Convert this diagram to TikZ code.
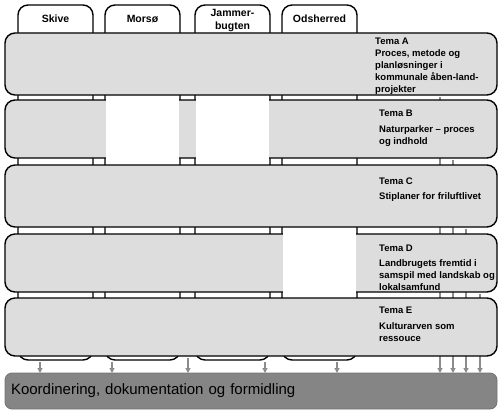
\documentclass[tikz,border=0pt]{standalone}
\usepackage{fontspec}
\setmainfont{Liberation Sans}
\usetikzlibrary{
  arrows.meta,
  backgrounds,
  calc,
  positioning,
}
\definecolor{temagraa}{RGB}{221, 221, 221}
\definecolor{koordgraa}{RGB}{133, 133, 133}
\definecolor{pilgraa}{RGB}{140, 140, 140}
\tikzstyle{kolonne} = [
  rectangle,
  draw,
  line width=1.4pt,
  fill=white,
  rounded corners=10pt,
  minimum width=75pt,
  minimum height=355pt,
  outer sep=0pt,
]
\tikzstyle{kolonnenavn} = [
  font=\fontsize{10.5}{13}\selectfont\bfseries,
  align=center,
  anchor=north,
  inner sep=0pt,
]
\tikzstyle{tema} = [
  rectangle,
  draw,
  line width=1.4pt,
  fill=temagraa,
  rounded corners=10pt,
  minimum width=492pt,
  outer sep=0pt,
]
\tikzstyle{tematekst} = [
  font=\fontsize{9.5}{12}\selectfont\bfseries,
  align=left,
  anchor=north west,
  inner sep=0pt,
]
\tikzstyle{koord} = [
  rectangle,
  draw=black!55,
  line width=0.8pt,
  fill=koordgraa,
  rounded corners=7pt,
  minimum height=36pt,
  text width=480pt,
  inner xsep=6pt,
  align=left,
  outer sep=0pt,
  font=\fontsize{15}{18}\selectfont,
]
\tikzstyle{pil} = [
  -{Triangle[width=5pt,length=5pt]},
  line width=1.1pt,
  pilgraa,
  shorten <=2pt,
]

\begin{document}
\begin{tikzpicture}[x=1pt,y=1pt]
			\useasboundingbox (0,0) rectangle (500,416);

			\node[kolonne] (skive) at (55.5,233.5) {};
			\node[kolonne] (morsoe) [right=12pt of skive] {};
			\node[kolonne] (jammerbugt) [right=15pt of morsoe] {};
			\node[kolonne] (odsherred) [right=12pt of jammerbugt] {};

			\node[kolonnenavn] (navnskive) at ([yshift=-10pt]skive.north) {Skive};
			\node[kolonnenavn] (navnmorsoe) at ([yshift=-10pt]morsoe.north) {Morsø};
			\node[kolonnenavn] (navnjammerbugt) at ([yshift=-4pt]jammerbugt.north) {Jammer-\\bugten};
			\node[kolonnenavn] (navnodsherred) at ([yshift=-10pt]odsherred.north) {Odsherred};

			\node[tema,minimum height=62pt] (temaA) at (251,352) {};
			\node[tema,minimum height=58pt] (temaB) [below=5pt of temaA] {};
			\node[tema,minimum height=62pt] (temaC) [below=7pt of temaB] {};
			\node[tema,minimum height=58pt] (temaD) [below=7pt of temaC] {};
			\node[tema,minimum height=58pt] (temaE) [below=6pt of temaD] {};

			\fill[white] ($(morsoe.west |- temaA.south)+(1pt,-1pt)$) rectangle ($(morsoe.east |- temaC.north)+(-1pt,1pt)$);
			\fill[white] ($(jammerbugt.west |- temaA.south)+(1pt,-1pt)$) rectangle ($(jammerbugt.east |- temaC.north)+(-1pt,1pt)$);
			\fill[white] ($(odsherred.west |- temaC.south)+(1pt,-1pt)$) rectangle ($(odsherred.east |- temaE.north)+(-1pt,1pt)$);

			\node[tematekst] (tekstA) at ([xshift=370pt,yshift=-5pt]temaA.north west) {Tema A\\Proces, metode og\\planløsninger i\\kommunale åben-land-\\projekter};
			\node[tematekst] (tekstB) at ([xshift=374pt,yshift=-10pt]temaB.north west) {Tema B\\[4pt]Naturparker -- proces\\og indhold};
			\node[tematekst] (tekstC) at ([xshift=374pt,yshift=-13pt]temaC.north west) {Tema C\\[3pt]Stiplaner for friluftlivet};
			\node[tematekst] (tekstD) at ([xshift=374pt,yshift=-11pt]temaD.north west) {Tema D\\[3pt]Landbrugets fremtid i\\samspil med landskab og\\lokalsamfund};
			\node[tematekst] (tekstE) at ([xshift=374pt,yshift=-9pt]temaE.north west) {Tema E\\[4pt]Kulturarven som\\ressouce};

			\node[koord] (koord) [below=17pt of temaE] {Koordinering, dokumentation og formidling};

			\coordinate (pilskive) at ([xshift=-15.5pt]skive.south);
			\coordinate (pilmorsoe) at ([xshift=-30.5pt]morsoe.south);
			\coordinate (pilE) at ([xshift=-63pt]temaE.south);
			\coordinate (piljammerbugt) at ([xshift=32.5pt]jammerbugt.south);
			\coordinate (pilodsherred) at ([xshift=17.5pt]odsherred.south);
			\draw[pil] (pilskive) -- (pilskive |- koord.north);
			\draw[pil] (pilmorsoe) -- (pilmorsoe |- koord.north);
			\draw[pil] (pilE) -- (pilE |- koord.north);
			\draw[pil] (piljammerbugt) -- (piljammerbugt |- koord.north);
			\draw[pil] (pilodsherred) -- (pilodsherred |- koord.north);

			\begin{scope}[on background layer]
				\coordinate (pilA) at ([xshift=189pt]temaA.south);
				\coordinate (pilB) at ([xshift=202pt]temaB.south);
				\coordinate (pilC) at ([xshift=215pt]temaC.south);
				\coordinate (pilD) at ([xshift=229pt]temaD.south);
				\draw[pil] (pilA) -- (pilA |- koord.north);
				\draw[pil] (pilB) -- (pilB |- koord.north);
				\draw[pil] (pilC) -- (pilC |- koord.north);
				\draw[pil] (pilD) -- (pilD |- koord.north);
			\end{scope}
      \end{tikzpicture}
\end{document}
